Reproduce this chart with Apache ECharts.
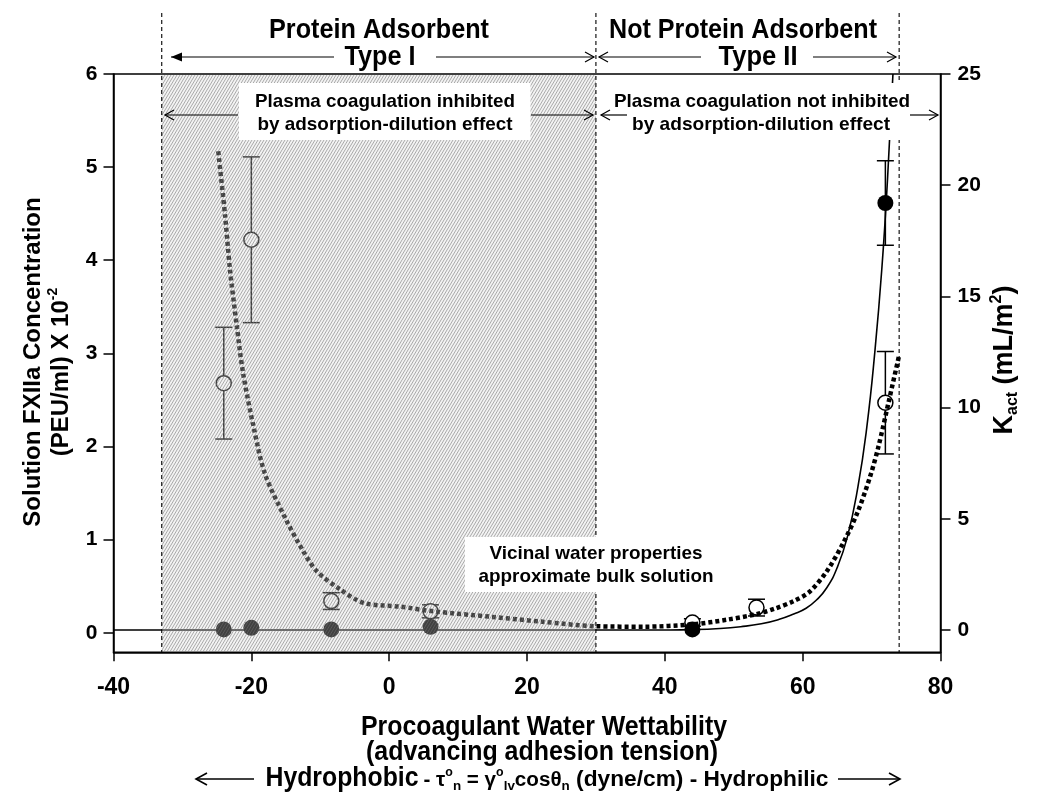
<!DOCTYPE html>
<html>
<head>
<meta charset="utf-8">
<title>FXIIa vs water wettability</title>
<script src="https://cdn.jsdelivr.net/npm/echarts@6.0.0/dist/echarts.min.js"></script>
<style>
html,body{margin:0;padding:0;background:#fff;}
#chart{width:1050px;height:802px;}
</style>
</head>
<body>
<div id="chart"></div>
<script>
// ---------------- data ----------------
const xTicks = [-40, -20, 0, 20, 40, 60, 80];
const leftTicks = [0, 1, 2, 3, 4, 5, 6];
const rightTicks = [0, 5, 10, 15, 20, 25];

// Solution FXIIa concentration (open circles, left axis)
const openX   = [-24, -20, -8.4, 6, 44, 53.3, 72];
const openY   = [2.68, 4.22, 0.34, 0.23, 0.11, 0.27, 2.47];
const openErr = [0.60, 0.89, 0.09, 0.07, 0.04, 0.09, 0.55];

// Kact (filled circles, right axis)
const kactX   = [-24, -20, -8.4, 6, 44, 72];
const kactY   = [0.03, 0.10, 0.03, 0.15, 0.03, 19.2];
const kactErr = [0, 0, 0, 0, 0, 1.9];

// dotted trend through FXIIa (left axis)
const dotX = [-24.8, -23.8, -23.1, -22.1, -21.2, -19.7, -18.0, -15.0, -12.5, -10.5, -7.1, -3.7, 1.6, 6.4, 15, 22, 30, 37, 44, 49, 53.3, 56, 58.7, 61, 63.5, 66, 68, 69.8, 71, 72.45, 74];
const dotY = [5.17, 4.47, 3.9, 3.29, 2.79, 2.22, 1.70, 1.22, 0.88, 0.66, 0.465, 0.32, 0.28, 0.23, 0.17, 0.12, 0.07, 0.065, 0.09, 0.14, 0.2, 0.26, 0.34, 0.44, 0.66, 0.98, 1.3, 1.68, 2.0, 2.47, 2.98];

// solid trend through Kact (right axis)
const fitX = [-40, 30, 40, 44, 48, 51, 54, 56.5, 58.7, 60.5, 62, 63.5, 65, 66.5, 68, 69.3, 70.5, 71.5, 72.3, 73.1];
const fitY = [0, 0, 0.005, 0.02, 0.07, 0.15, 0.28, 0.47, 0.72, 0.98, 1.35, 1.9, 2.8, 4.2, 6.4, 9.1, 12.6, 16.3, 20.2, 25.0];

// wettability boundaries and protein-adsorbent (Type I) span
const bounds = [-33, 30, 74];
const type1Span = [-33, 30];

// ---------------- setup ----------------
const leftMin = -0.21, leftMax = 6, rightMin = -1, rightMax = 25;

function hasFont(name) {
  const c = document.createElement('canvas').getContext('2d');
  const t = 'abcdefghijklmnopqrstuvwxyz0123456789ABCDEF';
  c.font = '40px monospace';
  const w1 = c.measureText(t).width;
  c.font = '40px "' + name + '", monospace';
  const w2 = c.measureText(t).width;
  return Math.abs(w1 - w2) > 0.5;
}
const SANS = '"Liberation Sans", Arial, Helvetica, sans-serif';
const NARROW = hasFont('Liberation Sans Narrow') ? '"Liberation Sans Narrow", ' + SANS : SANS;

const mctx = document.createElement('canvas').getContext('2d');
function measure(text, size, family) {
  mctx.font = 'bold ' + size + 'px ' + family;
  return mctx.measureText(text).width;
}

function makeHatch() {
  const w = 3, h = 5;
  const c = document.createElement('canvas');
  c.width = w; c.height = h;
  const g = c.getContext('2d');
  g.fillStyle = 'rgba(215,215,215,0.3)';
  g.fillRect(0, 0, w, h);
  g.strokeStyle = 'rgba(110,110,110,0.62)';
  g.lineWidth = 0.9;
  g.beginPath();
  for (let k = -2; k <= 2; k++) {
    g.moveTo(k * w - w, 2 * h);
    g.lineTo(k * w + 2 * w, -h);
  }
  g.stroke();
  return c;
}
const hatchCanvas = makeHatch();

function errRender(params, api) {
  const x = api.value(0), y = api.value(1), e = api.value(2);
  if (!e) return null;
  const t = api.coord([x, y + e]), b = api.coord([x, y - e]);
  const hw = 8.5, st = {stroke: '#000', lineWidth: 1.5};
  return {type: 'group', children: [
    {type: 'line', shape: {x1: t[0], y1: t[1], x2: b[0], y2: b[1]}, style: st},
    {type: 'line', shape: {x1: t[0] - hw, y1: t[1], x2: t[0] + hw, y2: t[1]}, style: st},
    {type: 'line', shape: {x1: b[0] - hw, y1: b[1], x2: b[0] + hw, y2: b[1]}, style: st}
  ]};
}

const axisCommon = {
  axisLine: {onZero: false, lineStyle: {color: '#000', width: 1.5}},
  splitLine: {show: false}
};

const chart = echarts.init(document.getElementById('chart'), null, {renderer: 'canvas'});
const option = {
  animation: false,
  backgroundColor: '#fff',
  grid: {left: 113.5, right: 109.5, top: 74, bottom: 149.7, show: true, borderColor: '#000', borderWidth: 1.5, backgroundColor: 'transparent'},
  xAxis: Object.assign({
    type: 'value', min: xTicks[0], max: xTicks[xTicks.length - 1], interval: 20,
    axisTick: {length: 9, lineStyle: {color: '#000', width: 1.5}},
    axisLabel: {color: '#000', fontFamily: NARROW, fontWeight: 'bold', fontSize: 23, margin: 24}
  }, axisCommon),
  yAxis: [
    Object.assign({
      type: 'value', min: leftMin, max: leftMax, position: 'left',
      axisTick: {length: 10, customValues: leftTicks, lineStyle: {color: '#000', width: 1.5}},
      axisLabel: {customValues: leftTicks, color: '#000', fontFamily: SANS, fontWeight: 'bold', fontSize: 21, margin: 16}
    }, axisCommon),
    Object.assign({
      type: 'value', min: rightMin, max: rightMax, position: 'right',
      axisTick: {length: 10, customValues: rightTicks, lineStyle: {color: '#000', width: 1.5}},
      axisLabel: {customValues: rightTicks, color: '#000', fontFamily: SANS, fontWeight: 'bold', fontSize: 21, margin: 17}
    }, axisCommon)
  ],
  series: [
    {type: 'custom', name: 'FXIIa error', yAxisIndex: 0, z: 1, silent: true,
     data: openX.map((x, i) => [x, openY[i], openErr[i]]), renderItem: errRender},
    {type: 'custom', name: 'Kact error', yAxisIndex: 1, z: 1, silent: true,
     data: kactX.map((x, i) => [x, kactY[i], kactErr[i]]), renderItem: errRender},
    {type: 'scatter', name: 'FXIIa', yAxisIndex: 0, z: 2, symbol: 'circle', symbolSize: 15,
     itemStyle: {color: '#fff', borderColor: '#000', borderWidth: 1.5, opacity: 1},
     data: openX.map((x, i) => [x, openY[i]])},
    {type: 'scatter', name: 'Kact', yAxisIndex: 1, z: 2, symbol: 'circle', symbolSize: 16,
     itemStyle: {color: '#000', opacity: 1},
     data: kactX.map((x, i) => [x, kactY[i]])},
    {type: 'line', name: 'FXIIa trend', yAxisIndex: 0, z: 3, showSymbol: false, smooth: 0.3,
     lineStyle: {color: '#000', width: 4.5, type: [4, 3], cap: 'butt'},
     data: dotX.map((x, i) => [x, dotY[i]])},
    {type: 'line', name: 'Kact fit', yAxisIndex: 1, z: 3, showSymbol: false, smooth: 0.5,
     lineStyle: {color: '#000', width: 1.6},
     data: fitX.map((x, i) => [x, fitY[i]])},
    {type: 'custom', name: 'Type I region', yAxisIndex: 0, z: 4, silent: true,
     data: [[type1Span[0], type1Span[1]]],
     encode: {x: [0, 1]},
     renderItem: function (params, api) {
       const a = api.coord([api.value(0), leftMax]);
       const b = api.coord([api.value(1), leftMin]);
       return {type: 'rect', shape: {x: a[0], y: a[1] + 1, width: b[0] - a[0], height: b[1] - a[1] - 2},
               style: {fill: {image: hatchCanvas, repeat: 'repeat'}}};
     }}
  ]
};
chart.setOption(option);

// ---------------- annotations ----------------
const P = (x, y) => chart.convertToPixel({xAxisIndex: 0, yAxisIndex: 0}, [x, y]);
const plotBottom = P(0, leftMin)[1];
const els = [];

function T(text, cx, cy, size, family, targetW, rot) {
  const sx = targetW ? targetW / measure(text, size, family) : 1;
  els.push({type: 'text', x: cx, y: cy, scaleX: sx, rotation: rot || 0, z: 12, silent: true,
    style: {text: text, fill: '#000', fontSize: size, fontFamily: family, fontWeight: 'bold', align: 'center', verticalAlign: 'middle'}});
}
function R(segs, cx, cy, family, targetW, rot) {
  let w = 0, str = '';
  const rich = {};
  segs.forEach((s, i) => {
    const [t, size, va] = s;
    w += measure(t, size, family);
    const key = 'r' + i;
    rich[key] = {fontSize: size, fontFamily: family, fontWeight: 'bold', fill: '#000',
                 lineHeight: va ? Math.round(size * 1.1) : Math.round(size * 1.2),
                 verticalAlign: va || 'middle'};
    str += '{' + key + '|' + t + '}';
  });
  const sx = targetW ? targetW / w : 1;
  els.push({type: 'text', x: cx, y: cy, scaleX: rot ? 1 : sx, scaleY: 1, rotation: rot || 0, z: 12, silent: true,
    style: {text: str, rich: rich, align: 'center', verticalAlign: 'middle'}});
}
function L(x1, y1, x2, y2, w, dash, z) {
  els.push({type: 'line', z: z || 11, silent: true, shape: {x1, y1, x2, y2},
    style: {stroke: '#000', lineWidth: w || 1.2, lineDash: dash || null}});
}
function chev(tip, y, dir, len, hh, w) {
  len = len || 9; hh = hh || 5;
  els.push({type: 'polyline', z: 11, silent: true,
    shape: {points: [[tip - dir * len, y - hh], [tip, y], [tip - dir * len, y + hh]]},
    style: {stroke: '#000', lineWidth: w || 1.2, fill: null}});
}
function tri(tip, y, dir) {
  els.push({type: 'polygon', z: 11, silent: true,
    shape: {points: [[tip - dir * 11, y - 4.5], [tip, y], [tip - dir * 11, y + 4.5]]},
    style: {fill: '#000'}});
}
function box(x1, y1, x2, y2) {
  els.push({type: 'rect', z: 10, silent: true, shape: {x: x1, y: y1, width: x2 - x1, height: y2 - y1},
    style: {fill: '#fff'}});
}

// dashed boundaries (extend above the plot)
bounds.forEach(b => { const px = P(b, 0)[0]; L(px, 13, px, plotBottom, 1.1, [4, 3], 9); });

// white label boxes
box(P(-21.8, 0)[0], 83, P(20.5, 0)[0], 140);
box(P(31.6, 0)[0], 83, P(76.3, 0)[0], 140);
box(P(11, 0)[0], 537, P(40, 0)[0], 592);

// top headings
T('Protein Adsorbent', 379, 30, 28, NARROW, 220);
T('Type I', 380, 57, 28, NARROW, 71);
T('Not Protein Adsorbent', 743, 30, 28, NARROW, 268);
T('Type II', 758, 57, 28, NARROW, 79);
L(171, 57, 334, 57); tri(171, 57, -1);
L(436, 57, 594, 57); chev(594, 57, 1);
L(599, 57, 701, 57); chev(599, 57, -1);
L(813, 57, 896, 57); chev(896, 57, 1);

// in-plot notes
T('Plasma coagulation inhibited', 385, 102, 19, SANS, 260);
T('by adsorption-dilution effect', 385, 125, 19, SANS, 255);
T('Plasma coagulation not inhibited', 762, 102, 19, SANS, 296);
T('by adsorption-dilution effect', 761, 125, 19, SANS, 258);
L(165, 115, 238, 115); chev(165, 115, -1);
L(531, 115, 593, 115); chev(593, 115, 1);
L(601, 115, 627, 115); chev(601, 115, -1);
L(910, 115, 938, 115); chev(938, 115, 1);
T('Vicinal water properties', 596, 554, 19, SANS, 213);
T('approximate bulk solution', 596, 577, 19, SANS, 235);

// x-axis titles
T('Procoagulant Water Wettability', 544, 728, 27, NARROW, 366);
T('(advancing adhesion tension)', 542, 753, 27, NARROW, 352);
T('Hydrophobic', 342, 779, 27, NARROW, 153);
R([['- ', 20], ['τ', 20], ['o', 12, 'top'], ['n', 13, 'bottom'], [' = ', 20], ['γ', 20], ['o', 12, 'top'], ['lv', 13, 'bottom'],
   ['cosθ', 20], ['n', 13, 'bottom'], [' (dyne/cm) - Hydrophilic', 22]], 626, 780, NARROW, 405);
L(196, 779, 254, 779, 1.6); chev(196, 779, -1, 11, 6, 1.6);
L(838, 779, 900, 779, 1.6); chev(900, 779, 1, 11, 6, 1.6);

// y-axis titles (rotated)
T('Solution FXIIa Concentration', 33, 362, 24, SANS, null, Math.PI / 2);
R([['(PEU/ml) X 10', 24], ['-2', 14, 'top']], 61, 372, SANS, null, Math.PI / 2);
R([['K', 27], ['act', 16, 'bottom'], [' (mL/m', 27], ['2', 16, 'top'], [')', 27]], 1005, 360, SANS, null, Math.PI / 2);

chart.setOption({graphic: {elements: els}});
</script>
</body>
</html>
